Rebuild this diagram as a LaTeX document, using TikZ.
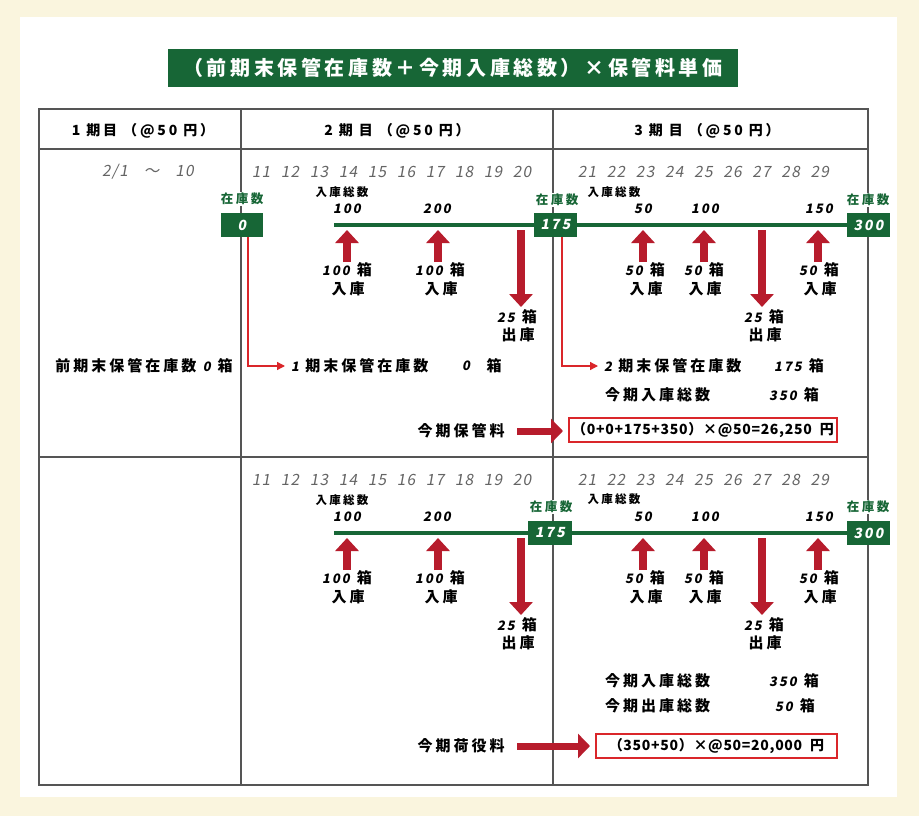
\documentclass[tikz,border=0pt]{standalone}
\usepackage{fontspec}
\setmainfont{Noto Sans CJK JP}
\newfontfamily\jp[LetterSpace=20]{Noto Sans CJK JP}
\newfontfamily\ttl[LetterSpace=18]{Noto Sans CJK JP}
\newfontfamily\bxf[LetterSpace=5]{Noto Sans CJK JP}
\newfontfamily\numf[FakeSlant=0.18,LetterSpace=15]{Noto Sans CJK JP}
\newfontfamily\datef[FakeSlant=0.18,LetterSpace=8]{Noto Sans CJK JP}
\usetikzlibrary{arrows.meta}
\definecolor{cream}{RGB}{250,245,222}
\definecolor{dgreen}{RGB}{23,102,54}
\definecolor{ared}{RGB}{183,28,44}
\definecolor{bred}{RGB}{218,38,42}
\definecolor{tline}{RGB}{85,85,85}
\definecolor{dgray}{RGB}{100,100,100}
\newcommand\nm[1]{{\numf\fontsize{13}{13}\selectfont #1}}
\newcommand\bx{\kern7pt 箱}
\begin{document}
\begin{tikzpicture}[x=1pt,y=-1pt,
  every node/.style={inner sep=0pt,outer sep=0pt},
  tbl/.style={draw=tline,line width=1.6pt},
  titlebox/.style={fill=dgreen,text=white,minimum width=570pt,minimum height=38pt,font=\ttl\bfseries\fontsize{20}{20}\selectfont},
  hdr/.style={font=\jp\bfseries\fontsize{14}{14}\selectfont},
  datel/.style={text=dgray,font=\datef\fontsize{15.5}{15.5}\selectfont},
  glab/.style={text=dgreen,fill=white,inner sep=1pt,font=\jp\bfseries\fontsize{12.5}{12.5}\selectfont},
  gbox/.style={fill=dgreen,text=white,minimum width=42pt,minimum height=24pt,font=\numf\bfseries\fontsize{14}{14}\selectfont},
  smalll/.style={font=\jp\bfseries\fontsize{11.5}{11.5}\selectfont},
  amt/.style={font=\numf\bfseries\fontsize{13}{13}\selectfont},
  lbl/.style={font=\jp\bfseries\fontsize{15}{15}\selectfont},
  gline/.style={draw=dgreen,line width=4pt},
  blockarr/.style={draw=ared,line width=8pt,-{Triangle[length=13pt,width=23pt]}},
  bigarr/.style={draw=ared,line width=7pt,-{Triangle[length=12pt,width=24pt]}},
  conn/.style={draw=bred,line width=1.3pt,-{Triangle[length=8pt,width=8pt]}},
  rbox/.style={draw=bred,line width=1.5pt,fill=white,font=\bxf\bfseries\fontsize{14}{14}\selectfont}
]
\useasboundingbox (0,0) rectangle (919,816);
\fill[cream] (0,0) rectangle (919,816);
\fill[white] (20,17) rectangle (897,797);

% title
\node[titlebox] (title) at (453,68) {（前期末保管在庫数＋今期入庫総数）×保管料単価};

% table
\draw[tbl] (39,109) rectangle (868,785);
\draw[tbl] (39,149) -- (868,149);
\draw[tbl] (39,457) -- (868,457);
\draw[tbl] (241,109) -- (241,785);
\draw[tbl] (553,109) -- (553,785);

% headers
\node[hdr] (h1) at (143,131) {1 期目 （@50 円）};
\node[hdr] (h2) at (397,131) {2 期 目 （@50 円）};
\node[hdr] (h3) at (707,131) {3 期 目 （@50 円）};

% dates
\node[datel] (d0) at (148,172) {2/1\kern16pt～\kern16pt10};
\foreach \i in {0,...,9}{
  \pgfmathtruncatemacro\d{11+\i}
  \node[datel] (da\d) at (261+29*\i,172) {\d};
  \node[datel] (db\d) at (261+29*\i,480) {\d};
}
\foreach \i in {0,...,8}{
  \pgfmathtruncatemacro\d{21+\i}
  \node[datel] (da\d) at (587+29.1*\i,172) {\d};
  \node[datel] (db\d) at (587+29.1*\i,480) {\d};
}

% ===== upper row =====
\node[glab] (gl0) at (242,199) {在庫数};
\node[glab] (gl1) at (557,200) {在庫数};
\node[glab] (gl2) at (868,200) {在庫数};
\node[smalll] (nk1) at (342,192) {入庫総数};
\node[smalll] (nk2) at (614,192) {入庫総数};
\node[amt] (am1) at (347,209) {100};
\node[amt] (am2) at (437,209) {200};
\node[amt] (am3) at (643,209) {50};
\node[amt] (am4) at (705,209) {100};
\node[amt] (am5) at (819,209) {150};
\coordinate (ls1) at (334,225);
\node[gbox] (b0) at (242,225) {0};
\node[gbox,minimum width=43pt] (b175) at (555.5,225) {175};
\node[gbox,minimum width=43pt] (b300) at (868.5,225) {300};
\draw[gline] (ls1) -- (b175.west);
\draw[gline] (b175.east) -- (b300.west);

\foreach \x/\n in {347/a,438/b,643/c,704/d,818/e}{
  \coordinate (ut\n) at (\x,262);
  \coordinate (uh\n) at (\x,230);
  \draw[blockarr] (ut\n) -- (uh\n);
}
\foreach \x/\n in {521/a,762/b}{
  \coordinate (dt\n) at (\x,230);
  \coordinate (dh\n) at (\x,307);
  \draw[blockarr] (dt\n) -- (dh\n);
}
\node[lbl] (ua1) at (347,270) {\nm{100}\bx};
\node[lbl] (ub1) at (348,289) {入庫};
\node[lbl] (ua2) at (440,270) {\nm{100}\bx};
\node[lbl] (ub2) at (441,289) {入庫};
\node[lbl] (ua3) at (645,270) {\nm{50}\bx};
\node[lbl] (ub3) at (646,289) {入庫};
\node[lbl] (ua4) at (704,270) {\nm{50}\bx};
\node[lbl] (ub4) at (705,289) {入庫};
\node[lbl] (ua5) at (819,270) {\nm{50}\bx};
\node[lbl] (ub5) at (820,289) {入庫};
\node[lbl] (da1) at (517,317) {\nm{25}\bx};
\node[lbl] (db1) at (518,335) {出庫};
\node[lbl] (da2) at (764,317) {\nm{25}\bx};
\node[lbl] (db2) at (765,335) {出庫};

\node[lbl] (prev) at (144,366) {前期末保管在庫数 \nm{0}\bx};
\node[lbl,anchor=west] (t1) at (291,366) {\nm{1} 期末保管在庫数};
\node[lbl] (t1n) at (466,366) {\nm{0}};
\node[lbl] (t1u) at (494,366) {箱};
\node[lbl,anchor=west] (t2) at (604,366) {\nm{2} 期末保管在庫数};
\node[lbl] (t2n) at (799,366) {\nm{175}\bx};
\node[lbl,anchor=west] (t3) at (605,395) {今期入庫総数};
\node[lbl] (t3n) at (794,395) {\nm{350}\bx};
\draw[conn] ([xshift=6pt]b0.south) |- ([xshift=-6pt]t1.west);
\draw[conn] ([xshift=6.5pt]b175.south) |- ([xshift=-6pt]t2.west);

\node[lbl] (fee1) at (461,431) {今期保管料};
\node[rbox,minimum width=268pt,minimum height=24pt] (box1) at (703,430) {（0+0+175+350）×@50=26,250\kern8pt 円};
\coordinate (fa1) at (517,431);
\draw[bigarr] (fa1) -- ([xshift=-6pt]box1.west |- fa1);

% ===== lower row =====
\node[glab] (gl3) at (551,507) {在庫数};
\node[glab] (gl4) at (868,507) {在庫数};
\node[smalll] (nk3) at (342,500) {入庫総数};
\node[smalll] (nk4) at (614,499) {入庫総数};
\node[amt] (am6) at (347,517) {100};
\node[amt] (am7) at (437,517) {200};
\node[amt] (am8) at (643,517) {50};
\node[amt] (am9) at (705,517) {100};
\node[amt] (am10) at (819,517) {150};
\coordinate (ls2) at (334,533);
\node[gbox,minimum width=44pt] (c175) at (550,533) {175};
\node[gbox,minimum width=43pt] (c300) at (868.5,533) {300};
\draw[gline] (ls2) -- (c175.west);
\draw[gline] (c175.east) -- (c300.west);

\foreach \x/\n in {347/a,438/b,643/c,704/d,818/e}{
  \coordinate (vt\n) at (\x,570);
  \coordinate (vh\n) at (\x,538);
  \draw[blockarr] (vt\n) -- (vh\n);
}
\foreach \x/\n in {521/a,762/b}{
  \coordinate (et\n) at (\x,538);
  \coordinate (eh\n) at (\x,615);
  \draw[blockarr] (et\n) -- (eh\n);
}
\node[lbl] (va1) at (347,578) {\nm{100}\bx};
\node[lbl] (vb1) at (348,597) {入庫};
\node[lbl] (va2) at (440,578) {\nm{100}\bx};
\node[lbl] (vb2) at (441,597) {入庫};
\node[lbl] (va3) at (645,578) {\nm{50}\bx};
\node[lbl] (vb3) at (646,597) {入庫};
\node[lbl] (va4) at (704,578) {\nm{50}\bx};
\node[lbl] (vb4) at (705,597) {入庫};
\node[lbl] (va5) at (819,578) {\nm{50}\bx};
\node[lbl] (vb5) at (820,597) {入庫};
\node[lbl] (ea1) at (517,625) {\nm{25}\bx};
\node[lbl] (eb1) at (518,643) {出庫};
\node[lbl] (ea2) at (764,625) {\nm{25}\bx};
\node[lbl] (eb2) at (765,643) {出庫};

\node[lbl,anchor=west] (s1) at (605,681) {今期入庫総数};
\node[lbl] (s1n) at (794,681) {\nm{350}\bx};
\node[lbl,anchor=west] (s2) at (605,706) {今期出庫総数};
\node[lbl] (s2n) at (795,706) {\nm{50}\bx};

\node[lbl] (fee2) at (461,746) {今期荷役料};
\node[rbox,minimum width=241pt,minimum height=24pt] (box2) at (716.5,746) {（350+50）×@50=20,000\kern8pt 円};
\coordinate (fa2) at (517,746);
\draw[bigarr] (fa2) -- ([xshift=-6pt]box2.west |- fa2);
\end{tikzpicture}
\end{document}
